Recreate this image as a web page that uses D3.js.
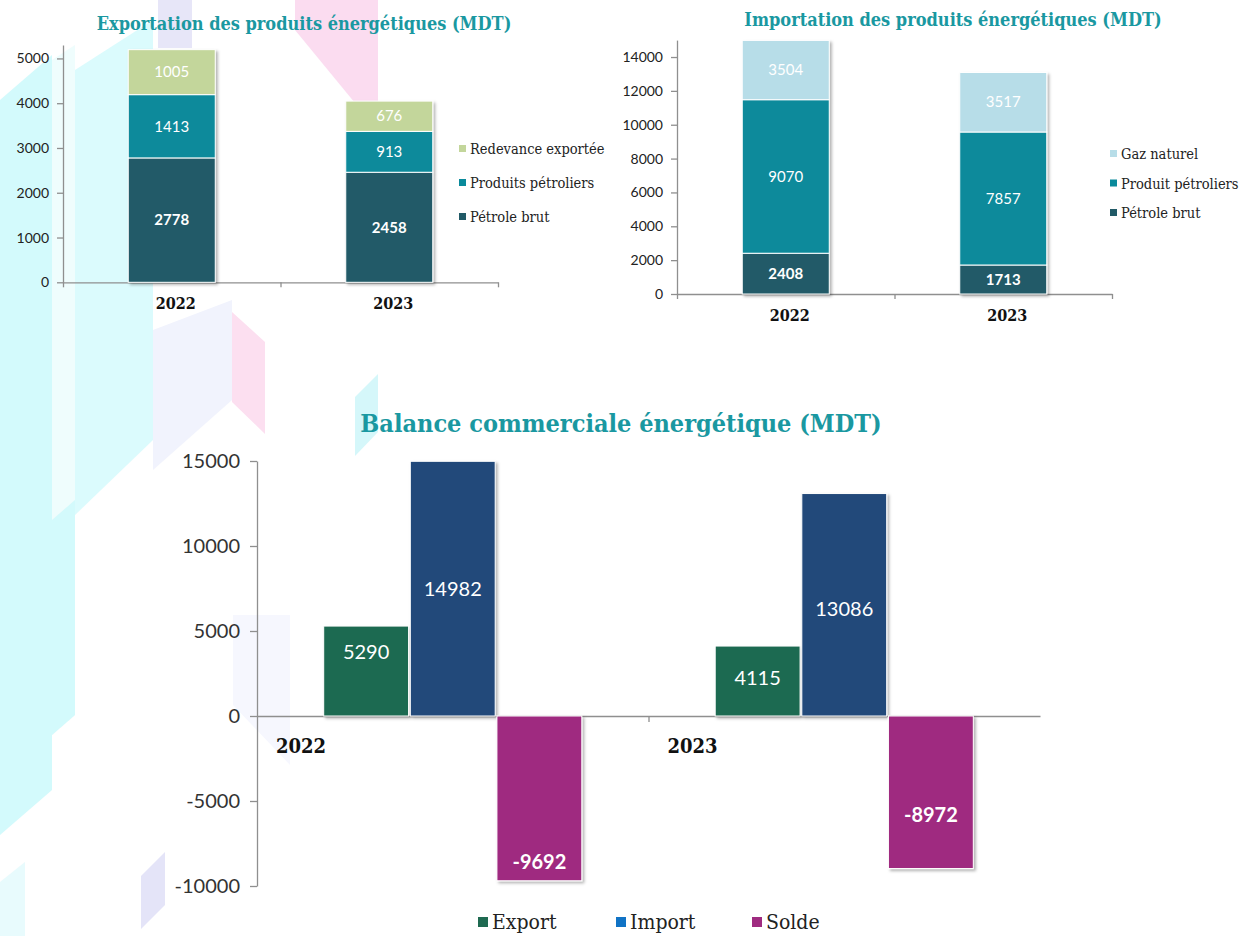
<!DOCTYPE html>
<html>
<head>
<meta charset="utf-8">
<title>Balance commerciale énergétique</title>
<script src="https://d3js.org/d3.v7.min.js"></script>
<style>
body { margin: 0; background: #fff; }
.titre { fill: #1a98a1; font-family: "DejaVu Serif Condensed", "DejaVu Serif", serif; font-weight: bold; text-anchor: middle; }
.tick text { font-family: Lato, sans-serif; fill: #222; }
.domain, .tick line { stroke: #8f8f8f; stroke-width: 1.3px; }
.cat { font-family: "DejaVu Serif Condensed", "DejaVu Serif", serif; font-weight: bold; fill: #111; text-anchor: middle; }
.leg { font-family: "DejaVu Serif Condensed", "DejaVu Serif", serif; fill: #222; }
.val { font-family: Lato, sans-serif; fill: #fff; text-anchor: middle; }
</style>
</head>
<body>
<div id="graph"></div>
<script>
var annees = ["2022", "2023"];

// exportation (MDT)
var expSeries = ["Pétrole brut", "Produits pétroliers", "Redevance exportée"];
var expPetrole = [2778, 2458];
var expProduits = [1413, 913];
var expRedevance = [1005, 676];
var expTicks = [0, 1000, 2000, 3000, 4000, 5000];

// importation (MDT)
var impSeries = ["Pétrole brut", "Produit pétroliers", "Gaz naturel"];
var impPetrole = [2408, 1713];
var impProduits = [9070, 7857];
var impGaz = [3504, 3517];
var impTicks = [0, 2000, 4000, 6000, 8000, 10000, 12000, 14000];

// balance (MDT)
var balSeries = ["Export", "Import", "Solde"];
var balExport = [5290, 4115];
var balImport = [14982, 13086];
var balSolde = [-9692, -8972];
var balTicks = [-10000, -5000, 0, 5000, 10000, 15000];
// ou l'etiquette se place dans la barre (fraction de la valeur)
var balLabExport = [0.71, 0.54];
var balLabImport = [0.5, 0.48];
var balLabSolde = [0.885, 0.65];

var w = 1253, h = 936;
var svg = d3.select("#graph").append("svg").attr("width", w).attr("height", h);
var defs = svg.append("defs");
defs.append("filter").attr("id", "ombre")
  .attr("x", "-10%").attr("y", "-10%").attr("width", "130%").attr("height", "130%")
  .append("feDropShadow").attr("dx", 2).attr("dy", 2).attr("stdDeviation", 1.6)
  .attr("flood-color", "#000").attr("flood-opacity", 0.3);

// decor de fond
var decor = [
  {pts: [[0,100],[52,55],[52,790],[0,835]], c: "#d3fafc"},
  {pts: [[52,60],[75,45],[75,715],[52,735]], c: "#effdfd"},
  {pts: [[52,520],[75,500],[75,715],[52,735]], c: "#d3fafc"},
  {pts: [[75,70],[153,20],[153,440],[75,515]], c: "#dbfbfd"},
  {pts: [[158,0],[192,0],[192,48],[158,48]], c: "#e7e6f8"},
  {pts: [[153,330],[232,300],[232,400],[153,470]], c: "#f1f3fd"},
  {pts: [[295,0],[378,0],[378,103],[355,103],[295,30]], c: "#fbdcf0"},
  {pts: [[232,312],[265,342],[265,434],[232,402]], c: "#fcdff0"},
  {pts: [[355,397],[378,374],[378,432],[355,456]], c: "#d5f7fa"},
  {pts: [[233,615],[290,615],[290,765],[233,705]], c: "#f6f7fe"},
  {pts: [[141,876],[165,852],[165,905],[141,929]], c: "#e4e4f8"},
  {pts: [[0,882],[25,862],[25,936],[0,936]], c: "#e8fbfd"}
];
svg.append("g").selectAll("polygon").data(decor).enter()
  .append("polygon")
    .attr("points", d => d.pts.map(p => p.join(",")).join(" "))
    .attr("fill", d => d.c);

// graphique empile
function empile(cfg) {
  var g = svg.append("g");
  var table = annees.map(function(a, i) {
    var row = {annee: a};
    cfg.series.forEach(function(s, j) { row[s] = cfg.valeurs[j][i]; });
    return row;
  });
  var couches = d3.stack().keys(cfg.series)(table);
  var x = d3.scaleBand().domain(annees).range(cfg.xr).paddingInner(0.6).paddingOuter(0.3);
  var y = d3.scaleLinear().domain(cfg.yd).range(cfg.yr);
  var xa = d3.scaleLinear().domain([0, annees.length]).range(cfg.xr);

  g.append("g").attr("transform", "translate(0," + y(0) + ")")
    .call(d3.axisBottom(xa).tickValues(d3.range(annees.length + 1)).tickFormat("").tickSizeInner(5).tickSizeOuter(0));
  g.append("g").attr("transform", "translate(" + cfg.xr[0] + ",0)")
    .call(d3.axisLeft(y).tickValues(cfg.ticks).tickFormat(d => d).tickSizeInner(6).tickSizeOuter(0).tickPadding(8))
    .selectAll("text").style("font-size", "14px");

  var barres = g.append("g").attr("filter", "url(#ombre)");
  couches.forEach(function(c, j) {
    barres.selectAll("rect.s" + j).data(c).enter()
      .append("rect")
        .attr("class", "s" + j)
        .attr("x", d => x(d.data.annee))
        .attr("y", d => y(d[1]))
        .attr("width", x.bandwidth())
        .attr("height", d => y(d[0]) - y(d[1]))
        .attr("fill", cfg.couleurs[j])
        .attr("stroke", "#fff").attr("stroke-width", 1);
  });
  couches.forEach(function(c, j) {
    g.selectAll("text.v" + j).data(c).enter()
      .append("text")
        .attr("class", "val v" + j)
        .attr("x", d => x(d.data.annee) + x.bandwidth() / 2)
        .attr("y", d => y((d[0] + d[1]) / 2))
        .attr("dy", "0.35em")
        .style("font-size", "15px")
        .style("font-weight", j == 0 ? "bold" : "normal")
        .text(d => d[1] - d[0]);
  });

  g.selectAll("text.cat").data(annees).enter()
    .append("text").attr("class", "cat")
      .attr("x", d => x(d) + x.bandwidth() / 2 + 4)
      .attr("y", y(0) + 27)
      .style("font-size", "16px")
      .text(d => d);

  g.append("text").attr("class", "titre")
    .attr("x", cfg.titre[0]).attr("y", cfg.titre[1])
    .style("font-size", "18px")
    .text(cfg.texte);

  var leg = g.selectAll("g.leg").data(cfg.series.slice().reverse()).enter()
    .append("g").attr("transform", (d, i) => "translate(" + cfg.leg[0] + "," + (cfg.leg[1] + i * cfg.leg[2]) + ")");
  leg.append("rect").attr("x", 0).attr("y", -4).attr("width", 7).attr("height", 7)
    .attr("fill", d => cfg.couleurs[cfg.series.indexOf(d)]);
  leg.append("text").attr("class", "leg").attr("x", 11).attr("dy", "0.35em")
    .style("font-size", "14.5px").text(d => d);
}

empile({
  series: expSeries,
  valeurs: [expPetrole, expProduits, expRedevance],
  couleurs: ["#215a67", "#0a8a9b", "#c3d69b"],
  ticks: expTicks,
  xr: [63, 498], yd: [0, 5300], yr: [282.3, 45],
  titre: [304, 30], texte: "Exportation des produits énergétiques (MDT)",
  leg: [459, 149, 34]
});

empile({
  series: impSeries,
  valeurs: [impPetrole, impProduits, impGaz],
  couleurs: ["#215a67", "#0a8a9b", "#b7dde8"],
  ticks: impTicks,
  xr: [677, 1112], yd: [0, 15000], yr: [294, 40.1],
  titre: [953, 26], texte: "Importation des produits énergétiques (MDT)",
  leg: [1110, 154, 29.5]
});

// balance commerciale
var gb = svg.append("g");
var balValeurs = [balExport, balImport, balSolde];
var balLab = [balLabExport, balLabImport, balLabSolde];
var balCouleurs = ["#1f6a51", "#22497a", "#9f2b80"];
var balLegCouleurs = ["#1f6a51", "#1173c5", "#9f2b80"];

var x0 = d3.scaleBand().domain(annees).range([257, 1040]);
var x1 = d3.scaleBand().domain(balSeries).range([0, x0.bandwidth()]).paddingInner(0.02).paddingOuter(0.77);
var yb = d3.scaleLinear().domain([-10000, 15000]).range([886, 461]);
var xba = d3.scaleLinear().domain([0, annees.length]).range([257, 1040]);

gb.append("g").attr("transform", "translate(0," + yb(0) + ")")
  .call(d3.axisBottom(xba).tickValues([1]).tickFormat("").tickSizeInner(6).tickSizeOuter(0));
gb.append("g").attr("transform", "translate(257,0)")
  .call(d3.axisLeft(yb).tickValues(balTicks).tickFormat(d => d).tickSizeInner(7).tickSizeOuter(0).tickPadding(10))
  .selectAll("text").style("font-size", "20px").style("fill", "#333");

var balData = [];
balSeries.forEach(function(s, j) {
  annees.forEach(function(a, i) {
    balData.push({serie: s, j: j, annee: a, v: balValeurs[j][i], lab: balLab[j][i]});
  });
});

gb.append("g").attr("filter", "url(#ombre)")
  .selectAll("rect").data(balData).enter()
  .append("rect")
    .attr("x", d => x0(d.annee) + x1(d.serie))
    .attr("y", d => yb(Math.max(0, d.v)))
    .attr("width", x1.bandwidth())
    .attr("height", d => Math.abs(yb(d.v) - yb(0)))
    .attr("fill", d => balCouleurs[d.j])
    .attr("stroke", "#fff").attr("stroke-width", 1);

gb.selectAll("text.bv").data(balData).enter()
  .append("text").attr("class", "val bv")
    .attr("x", d => x0(d.annee) + x1(d.serie) + x1.bandwidth() / 2)
    .attr("y", d => yb(d.v * d.lab))
    .attr("dy", "0.35em")
    .style("font-size", "20px")
    .style("font-weight", d => d.v < 0 ? "bold" : "normal")
    .text(d => d.v);

gb.selectAll("text.cat").data(annees).enter()
  .append("text").attr("class", "cat")
    .attr("x", d => x0(d) + 44)
    .attr("y", yb(0) + 37)
    .style("font-size", "20px")
    .text(d => d);

gb.append("text").attr("class", "titre")
  .attr("x", 621).attr("y", 432)
  .style("font-size", "25px")
  .text("Balance commerciale énergétique  (MDT)");

var bleg = gb.selectAll("g.bleg").data(balSeries).enter()
  .append("g").attr("transform", (d, i) => "translate(" + [478, 616, 752][i] + ",922)");
bleg.append("rect").attr("x", 0).attr("y", -5).attr("width", 10).attr("height", 10)
  .attr("fill", (d, i) => balLegCouleurs[i]);
bleg.append("text").attr("class", "leg").attr("x", 14).attr("dy", "0.35em")
  .style("font-size", "21px").text(d => d);
</script>
</body>
</html>
